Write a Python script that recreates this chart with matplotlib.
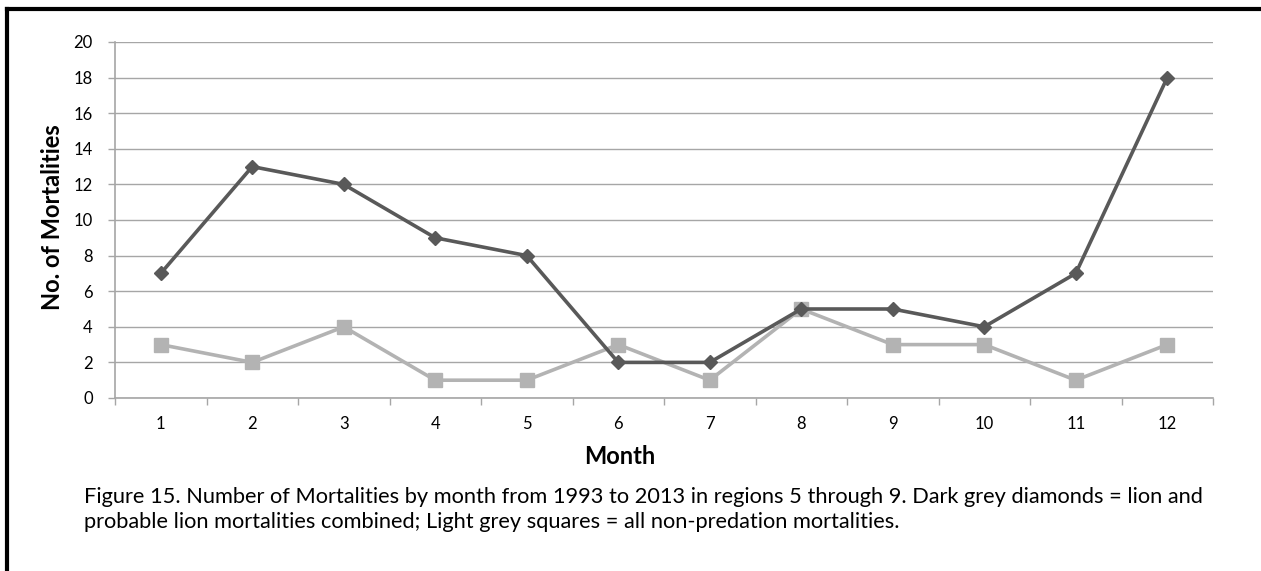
import matplotlib
matplotlib.use("Agg")
import matplotlib.pyplot as plt
from matplotlib.lines import Line2D

months = [1, 2, 3, 4, 5, 6, 7, 8, 9, 10, 11, 12]
lion = [7, 13, 12, 9, 8, 2, 2, 5, 5, 4, 7, 18]
non_predation = [3, 2, 4, 1, 1, 3, 1, 5, 3, 3, 1, 3]
yticks = list(range(0, 21, 2))

plt.rcParams['font.family'] = ['Lato', 'DejaVu Sans']

W, H = 1261, 571
fig = plt.figure(figsize=(W / 100, H / 100), dpi=100)
ax = fig.add_axes([115 / W, 1 - 398 / H, (1213 - 115) / W, (398 - 42) / H])

grid_c = '#a6a6a6'
ax.plot(months, non_predation, color='#b3b3b3', lw=2.6, marker='s', ms=10,
        markeredgecolor='#b3b3b3', zorder=3)
ax.plot(months, lion, color='#595959', lw=2.6, marker='D', ms=7,
        markeredgecolor='#595959', zorder=4)

ax.set_xlim(0.5, 12.5)
ax.set_ylim(0, 20)
ax.set_yticks(yticks)
ax.set_xticks(months)
ax.set_xticklabels([str(m) for m in months])
ax.set_xticks([m + 0.5 for m in [0] + months], minor=True)
ax.tick_params(axis='x', which='major', length=0, pad=13, labelsize=12)
ax.tick_params(axis='x', which='minor', length=5, color=grid_c, width=1)
ax.tick_params(axis='y', length=5, color=grid_c, width=1, labelsize=12, pad=11)
ax.yaxis.grid(True, color=grid_c, lw=1)
ax.set_axisbelow(True)
for s in ['top', 'right']:
    ax.spines[s].set_visible(False)
for s in ['left', 'bottom']:
    ax.spines[s].set_color(grid_c)
    ax.spines[s].set_linewidth(1.2)

fig.text(620 / W, 1 - 457 / H, 'Month', ha='center', va='center',
         fontsize=17, fontweight='bold')
fig.text(53 / W, 1 - 217 / H, 'No. of Mortalities', ha='center', va='center',
         rotation=90, fontsize=17, fontweight='bold')

caption_lines = [
    "Figure 15. Number of Mortalities by month from 1993 to 2013 in regions 5 through 9. "
    "Dark grey diamonds = lion and",
    "probable lion mortalities combined; Light grey squares = all non-predation mortalities.",
]
for i, line in enumerate(caption_lines):
    fig.text(84 / W, 1 - (503 + 25 * i) / H, line, ha='left', va='baseline',
             fontsize=15.7)

# outer frame (top and left edges visible)
fig.add_artist(Line2D([7 / W, 1], [1 - 8.5 / H, 1 - 8.5 / H], color='black', lw=3,
                      transform=fig.transFigure))
fig.add_artist(Line2D([7 / W, 7 / W], [0, 1 - 8.5 / H], color='black', lw=3,
                      transform=fig.transFigure))

fig.savefig('out.png', dpi=100)
